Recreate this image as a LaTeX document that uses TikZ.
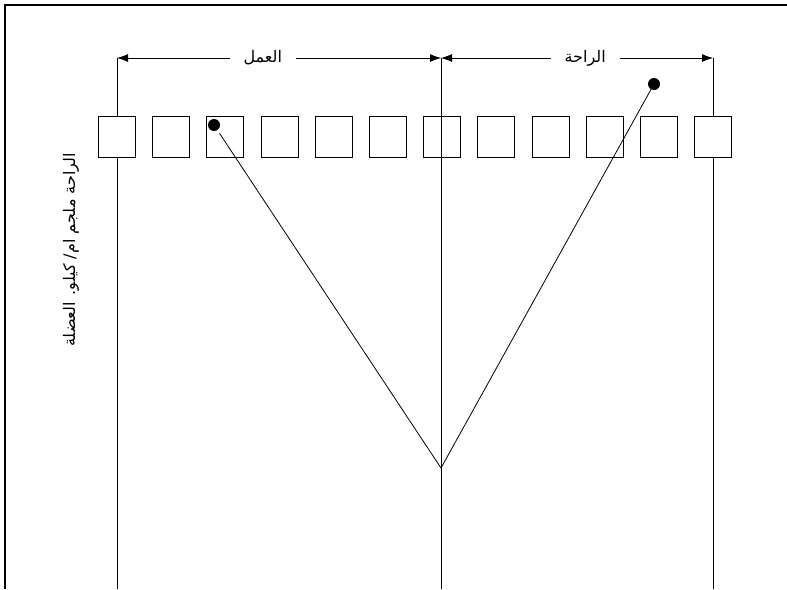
\documentclass[tikz,border=0pt]{standalone}
\usepackage{fontspec}
\newfontfamily\arabicfont[Script=Arabic]{DejaVu Sans}
\TeXXeTstate=1
\usetikzlibrary{arrows.meta}

\begin{document}
\begin{tikzpicture}[
            x=1pt, y=-1pt,
            cell/.style={rectangle, draw, fill=white, minimum width=37pt, minimum height=41pt, inner sep=0pt},
            dot/.style={circle, fill=black, minimum size=12pt, inner sep=0pt},
            dim/.style={draw, {Latex[length=11pt,width=8pt]}-{Latex[length=11pt,width=8pt]}},
            lbl/.style={fill=white, inner xsep=14pt, inner ysep=1pt, font=\arabicfont\fontsize{16}{19}\selectfont},
            line width=0.8pt
        ]
        \useasboundingbox (0,0) rectangle (787,589);

        % frame
        \draw[line width=2.5pt] (5,589) -- (5,5) -- (787,5);

        % upright lines
        \coordinate (L0) at (117,58);  \coordinate (L1) at (117,589);
        \coordinate (M0) at (441,58);  \coordinate (M1) at (441,589);
        \coordinate (R0) at (713,58);  \coordinate (R1) at (713,589);
        \draw (L0) -- (L1);
        \draw (R0) -- (R1);

        % row of boxes
        \foreach \i in {1,...,12}
            \node[cell] (b\i) at ({117+54.18*(\i-1)},137) {};

        \draw (M0) -- (M1);

        % work and rest spans
        \draw[dim] (L0) -- (M0) node[lbl, pos=0.45] (work) {\beginR العمل\endR};
        \draw[dim] (M0) -- (R0) node[lbl, pos=0.53] (rest) {\beginR الراحة\endR};

        % dots and lines to the apex
        \coordinate (A) at (441,468);
        \node[dot] (d1) at (214,125) {};
        \node[dot] (d2) at (654,84) {};
        \draw[shorten <=10pt] (d1.center) -- (A);
        \draw[shorten <=3pt] (d2.center) -- (A);

        % side label
        \node[rotate=90, font=\arabicfont\fontsize{16}{19}\selectfont] (ylab) at (71,250)
            {\beginR الراحة ملجم ام/ كيلو. العضلة\endR};
\end{tikzpicture}
\end{document}
